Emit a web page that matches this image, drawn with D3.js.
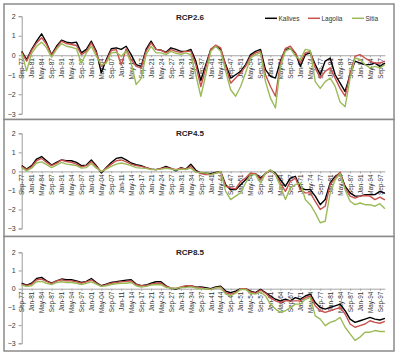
<!DOCTYPE html>
<html>
<head>
<meta charset="utf-8">
<script src="https://cdn.jsdelivr.net/npm/d3@7"></script>
<style>
  body { margin: 0; background: #fff; }
  svg { display: block; font-family: 'Liberation Sans', Arial, sans-serif; }
</style>
</head>
<body>
<div id="chart"></div>
<script>
// Series, one value every 20 months starting Sep-1977
const seriesNames = ['Kalives', 'Lagolia', 'Sitia'];
const seriesColors = ['#000000', '#c8504d', '#9bbb59'];
const panelTitles = ['RCP2.6', 'RCP4.5', 'RCP8.5'];
const yTicks = [2, 1, 0, -1, -2, -3];
const xTickLabels = ['Sep-77','Jan-81','May-84','Sep-87','Jan-91','May-94','Sep-97','Jan-01','May-04','Sep-07',
  'Jan-11','May-14','Sep-17','Jan-21','May-24','Sep-27','Jan-31','May-34','Sep-37','Jan-41','May-44','Sep-47',
  'Jan-51','May-54','Sep-57','Jan-61','May-64','Sep-67','Jan-71','May-74','Sep-77','Jan-81','May-84','Sep-87',
  'Jan-91','May-94','Sep-97'];

const rcp26Kalives = [
  0.2, -0.22, 0.3, 0.72, 1.1, 0.63, 0.03, 0.46, 0.77, 0.67,
  0.63, 0.67, 0.12, 0.3, 0.72, 0.2, -0.9, -0.22, 0.33, 0.38,
  0.3, 0.46, 0.03, -0.48, -0.57, 0.3, 0.72, 0.3, 0.26, 0.15,
  0.38, 0.3, 0.2, 0.2, 0.3, -0.3, -1.3, -0.48, 0.3, 0.46,
  0.3, -0.48, -1.17, -1.0, -0.83, -0.48, 0.03, 0.2, 0.3, -0.74,
  -1.08, -1.17, -0.3, 0.3, 0.35, 0.12, -0.57, 0.03, 0.12, -0.48,
  -1.0, -0.3, -0.14, -1.0, -1.43, -1.86, -1.0, -0.3, -0.4, -0.48,
  -0.48, -0.4, -0.57, -0.4];
const rcp26Lagolia = [
  0.15, -0.3, 0.25, 0.63, 0.9, 0.55, 0.0, 0.38, 0.72, 0.6,
  0.55, 0.5, 0.03, 0.2, 0.63, 0.12, -0.57, -0.3, 0.24, 0.29,
  -0.5, 0.33, -0.22, -0.57, -0.65, 0.2, 0.63, 0.3, 0.26, 0.12,
  0.29, 0.2, 0.15, 0.2, 0.2, -0.5, -1.6, -0.65, 0.3, 0.52,
  0.38, -0.57, -1.43, -1.17, -0.9, -0.57, -0.05, 0.12, 0.2, -1.0,
  -1.6, -2.1, -0.4, 0.35, 0.46, 0.12, -0.4, 0.12, 0.2, -0.65,
  -1.17, -0.83, -0.65, -1.17, -1.7, -2.1, -1.0, -0.05, 0.03, -0.14,
  -0.3, -0.4, -0.4, -0.3];
const rcp26Sitia = [
  0.1, -0.8, 0.1, 0.46, 0.67, 0.38, -0.1, 0.3, 0.6, 0.46,
  0.41, 0.33, -0.4, 0.12, 0.46, -0.05, -0.5, -0.4, 0.12, 0.15,
  -0.05, 0.2, -0.4, -1.5, -1.2, 0.03, 0.46, 0.12, 0.12, 0.03,
  0.2, 0.1, 0.05, 0.12, 0.03, -1.0, -2.1, -1.0, 0.2, 0.46,
  0.2, -0.83, -1.77, -2.1, -1.6, -0.9, -0.14, 0.03, 0.12, -1.35,
  -2.2, -2.7, -0.57, 0.2, 0.35, -0.05, -0.22, 0.3, 0.25, -1.35,
  -1.7, -1.35, -1.17, -1.6, -2.4, -2.64, -1.17, -0.14, -0.22, -0.48,
  -0.65, -0.57, -0.65, -0.48];

const rcp45Kalives = [
  0.3, 0.12, 0.3, 0.65, 0.78, 0.56, 0.33, 0.47, 0.6, 0.56,
  0.56, 0.47, 0.3, 0.33, 0.6, 0.3, -0.08, 0.2, 0.47, 0.68,
  0.73, 0.6, 0.44, 0.35, 0.3, 0.2, 0.12, 0.09, 0.16, 0.26,
  0.16, 0.03, 0.2, 0.12, 0.38, 0.06, -0.09, -0.09, -0.12, -0.05,
  -0.02, -0.7, -0.96, -0.96, -0.7, -0.44, -0.17, -0.12, -0.35, -0.12,
  0.05, -0.09, -0.44, -0.78, -0.35, -0.26, -0.87, -0.96, -0.96, -1.3,
  -1.75, -1.48, -0.61, -0.26, -0.09, -0.78, -1.13, -1.3, -1.3, -1.22,
  -1.22, -1.22, -1.05, -1.15];
const rcp45Lagolia = [
  0.25, 0.09, 0.24, 0.56, 0.68, 0.47, 0.3, 0.42, 0.6, 0.52,
  0.47, 0.38, 0.24, 0.3, 0.52, 0.24, -0.02, 0.17, 0.38, 0.56,
  0.6, 0.5, 0.38, 0.3, 0.26, 0.2, 0.12, 0.09, 0.16, 0.2,
  0.16, 0.09, 0.17, 0.12, 0.26, 0.0, -0.12, -0.17, -0.17, -0.09,
  -0.05, -0.78, -0.87, -0.92, -0.52, -0.35, -0.09, -0.12, -0.44, -0.09,
  0.05, -0.17, -0.61, -1.05, -0.52, -0.35, -0.96, -1.13, -1.13, -1.57,
  -2.0, -1.83, -0.7, -0.35, -0.05, -0.87, -1.3, -1.4, -1.3, -1.27,
  -1.3, -1.48, -1.35, -1.5];
const rcp45Sitia = [
  0.2, 0.03, 0.17, 0.44, 0.5, 0.35, 0.2, 0.33, 0.47, 0.38,
  0.35, 0.3, 0.17, 0.2, 0.42, 0.17, 0.0, 0.12, 0.26, 0.38,
  0.44, 0.38, 0.3, 0.2, 0.17, 0.16, 0.09, 0.09, 0.12, 0.16,
  0.12, 0.07, 0.12, 0.1, 0.17, -0.05, -0.05, -0.09, -0.17, -0.09,
  0.0, -1.05, -1.48, -1.3, -1.13, -0.61, -0.17, -0.17, -0.61, -0.12,
  0.09, -0.17, -0.78, -1.48, -0.87, -0.7, -0.61, -1.48, -1.75, -2.18,
  -2.7, -2.62, -1.13, -0.44, -0.12, -0.96, -1.57, -1.75, -1.66, -1.75,
  -1.75, -1.83, -1.7, -1.96];

const rcp85Kalives = [
  0.3, 0.2, 0.3, 0.56, 0.62, 0.43, 0.3, 0.43, 0.53, 0.49,
  0.49, 0.43, 0.34, 0.4, 0.56, 0.34, 0.16, 0.25, 0.34, 0.38,
  0.43, 0.47, 0.49, 0.25, 0.16, 0.2, 0.3, 0.38, 0.38, 0.16,
  0.02, -0.02, 0.07, 0.13, 0.16, 0.08, 0.1, 0.05, 0.0, 0.1,
  0.14, -0.13, -0.22, -0.13, 0.0, 0.0, -0.13, -0.22, -0.04, -0.22,
  -0.4, -0.58, -0.67, -0.58, -0.67, -0.49, -0.58, -0.4, -0.3, -0.76,
  -1.03, -1.12, -1.03, -0.94, -0.85, -1.21, -1.67, -1.85, -1.76, -1.67,
  -1.58, -1.67, -1.72, -1.63];
const rcp85Lagolia = [
  0.25, 0.16, 0.25, 0.49, 0.53, 0.4, 0.28, 0.43, 0.49, 0.43,
  0.43, 0.38, 0.3, 0.38, 0.49, 0.3, 0.13, 0.22, 0.3, 0.34,
  0.38, 0.4, 0.43, 0.22, 0.16, 0.16, 0.25, 0.3, 0.3, 0.13,
  0.04, 0.02, 0.1, 0.16, 0.16, 0.07, 0.05, 0.0, -0.04, 0.05,
  0.09, -0.22, -0.3, -0.22, 0.0, 0.0, -0.18, -0.25, -0.07, -0.25,
  -0.49, -0.67, -0.76, -0.67, -0.67, -0.67, -0.67, -0.49, -0.4, -0.94,
  -1.21, -1.3, -1.21, -1.12, -1.03, -1.39, -1.94, -2.12, -2.03, -1.94,
  -1.76, -1.85, -1.9, -1.8];
const rcp85Sitia = [
  0.2, 0.13, 0.16, 0.38, 0.4, 0.3, 0.22, 0.34, 0.38, 0.34,
  0.34, 0.3, 0.23, 0.29, 0.38, 0.25, 0.13, 0.16, 0.23, 0.27,
  0.3, 0.3, 0.34, 0.16, 0.09, 0.13, 0.2, 0.23, 0.22, 0.07,
  0.04, 0.02, 0.07, 0.07, 0.1, 0.04, 0.0, 0.0, -0.04, 0.05,
  0.05, -0.3, -0.4, -0.25, -0.04, -0.04, -0.25, -0.3, -0.18, -0.4,
  -0.85, -1.12, -1.3, -1.21, -1.03, -0.85, -0.85, -0.58, -0.49, -1.49,
  -1.67, -2.03, -1.85, -1.76, -1.58, -2.12, -2.48, -2.84, -2.66, -2.39,
  -2.39, -2.3, -2.35, -2.35];

const panelSeries = [
  [rcp26Kalives, rcp26Lagolia, rcp26Sitia],
  [rcp45Kalives, rcp45Lagolia, rcp45Sitia],
  [rcp85Kalives, rcp85Lagolia, rcp85Sitia]
];

// Layout
const W = 400, H = 356;
const panels = [
  { top: 4, bottom: 119.5, yHi: 16.2, yLo: 113.8, titleY: 19.5 },
  { top: 119.5, bottom: 236.5, yHi: 133.3, yLo: 228.5, titleY: 135.5 },
  { top: 236.5, bottom: 351, yHi: 252.3, yLo: 343.3, titleY: 255 }
];
const stepMonths = 20;
const startDate = new Date(1977, 8, 1);
const nPoints = rcp26Kalives.length;
const endDate = d3.timeMonth.offset(startDate, (nPoints - 1) * stepMonths);

const svg = d3.select('#chart').append('svg')
  .attr('width', W)
  .attr('height', H);

const x = d3.scaleTime()
  .domain([startDate, endDate])
  .range([21.7, 384.9]);

const xTickDates = xTickLabels.map((_, i) => d3.timeMonth.offset(startDate, i * 40));

panels.forEach((p, pi) => {
  const g = svg.append('g');

  // Rahmen
  g.append('rect')
    .attr('x', 4).attr('y', p.top)
    .attr('width', 390).attr('height', p.bottom - p.top)
    .attr('fill', '#fff')
    .attr('stroke', '#8a8a8a')
    .attr('stroke-width', 1.5);

  const y = d3.scaleLinear()
    .domain([-3, 2])
    .range([p.yLo, p.yHi]);

  // y axis
  const ya = g.append('g')
    .attr('transform', 'translate(21.7,0)')
    .call(d3.axisLeft(y).tickValues(yTicks).tickSize(3).tickPadding(3).tickFormat(d3.format('d')));
  ya.select('.domain').attr('stroke', '#9a9a9a');
  ya.selectAll('.tick line').attr('stroke', '#9a9a9a');
  ya.selectAll('text').attr('fill', '#333').style('font-size', '7px');

  // x axis at zero
  const xa = g.append('g')
    .attr('transform', `translate(0,${y(0)})`)
    .call(d3.axisBottom(x).tickValues(xTickDates).tickFormat((d, i) => xTickLabels[i])
      .tickSize(2).tickSizeOuter(0));
  xa.select('.domain').attr('stroke', '#a6a6a6');
  xa.selectAll('.tick line').attr('stroke', '#a6a6a6');
  xa.selectAll('text')
    .attr('transform', 'rotate(-90)')
    .attr('x', -3)
    .attr('y', 0)
    .attr('dy', '0.35em')
    .attr('fill', '#333')
    .style('text-anchor', 'end')
    .style('font-size', '6.4px');

  // Linien
  const line = d3.line()
    .x((d, i) => x(d3.timeMonth.offset(startDate, i * stepMonths)))
    .y(d => y(d));

  panelSeries[pi].forEach((vals, si) => {
    g.append('path')
      .datum(vals)
      .attr('d', line)
      .attr('fill', 'none')
      .attr('stroke', seriesColors[si])
      .attr('stroke-width', 1.4)
      .attr('stroke-linejoin', 'round');
  });

  // Titel
  g.append('text')
    .attr('x', 190)
    .attr('y', p.titleY)
    .attr('text-anchor', 'middle')
    .style('font-size', '8px')
    .style('font-weight', 'bold')
    .attr('fill', '#222')
    .text(panelTitles[pi]);
});

// Legende
const legendX = [265, 308, 352];
const legend = svg.append('g').attr('transform', 'translate(0,18.3)');
seriesNames.forEach((name, i) => {
  legend.append('line')
    .attr('x1', legendX[i]).attr('x2', legendX[i] + 12)
    .attr('y1', 0).attr('y2', 0)
    .attr('stroke', seriesColors[i])
    .attr('stroke-width', 1.5);
  legend.append('text')
    .attr('x', legendX[i] + 13.5)
    .attr('y', 0)
    .attr('dy', '0.35em')
    .attr('fill', '#333')
    .style('font-size', '6.5px')
    .text(name);
});
</script>
</body>
</html>
